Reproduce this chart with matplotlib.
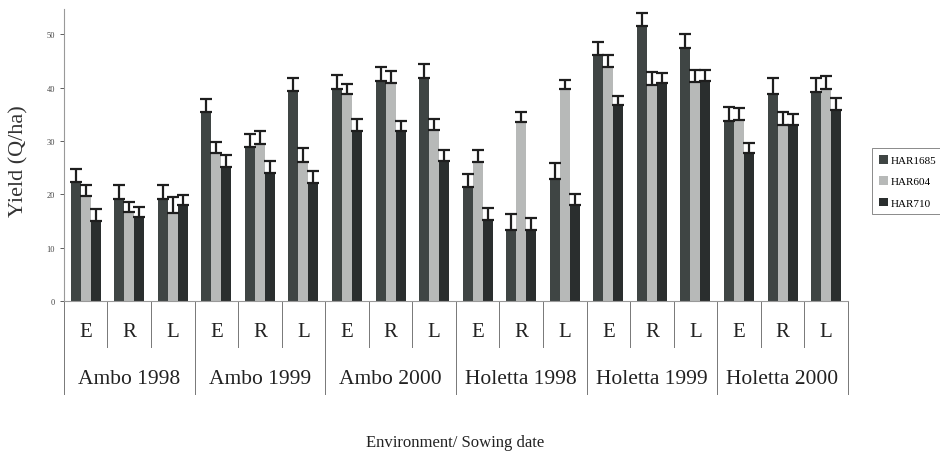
import numpy as np
import matplotlib
matplotlib.use("Agg")
import matplotlib.pyplot as plt

plt.rcParams['font.family'] = ['Liberation Serif', 'DejaVu Serif']

groups = ['Ambo 1998', 'Ambo 1999', 'Ambo 2000', 'Holetta 1998', 'Holetta 1999', 'Holetta 2000']
dates = ['E', 'R', 'L']
varieties = ['HAR1685', 'HAR604', 'HAR710']

# yield per environment/sowing date (18 values per variety)
har1685 = [22.3, 19.1, 19.1, 35.4, 28.9, 39.4, 39.8, 41.3, 41.9,
           21.3, 13.4, 22.8, 46.1, 51.6, 47.5, 33.8, 38.9, 39.2]
har604 = [19.6, 16.6, 16.5, 27.8, 29.5, 26.0, 38.8, 40.8, 32.0,
          26.0, 33.5, 39.7, 43.8, 40.5, 41.0, 34.0, 33.0, 39.8]
har710 = [15.0, 15.7, 18.0, 25.1, 24.0, 22.2, 31.9, 31.9, 26.2,
          15.2, 13.4, 18.0, 36.7, 40.8, 41.3, 27.7, 33.0, 35.8]

# upper error (standard error)
err1685 = [2.4, 2.7, 2.7, 2.4, 2.5, 2.5, 2.5, 2.5, 2.6,
           2.6, 2.9, 3.0, 2.5, 2.3, 2.5, 2.5, 3.0, 2.6]
err604 = [2.2, 1.9, 3.0, 2.0, 2.4, 2.7, 1.8, 2.3, 2.2,
          2.3, 2.0, 1.7, 2.4, 2.5, 2.3, 2.2, 2.5, 2.4]
err710 = [2.2, 1.9, 1.9, 2.3, 2.2, 2.2, 2.3, 1.9, 2.1,
          2.2, 2.1, 2.0, 1.7, 1.9, 2.0, 2.0, 2.0, 2.2]

series = [har1685, har604, har710]
errors = [err1685, err604, err710]
colors = ['#3f4544', '#b7b9b8', '#2a2e2e']

fig = plt.figure(figsize=(9.4, 4.64), dpi=100)
ax = fig.add_axes([0.068, 0.349, 0.834, 0.629])

n = len(groups) * len(dates)
x = np.arange(n)
w = 0.23
for i in range(3):
    ax.bar(x + (i - 1) * w, series[i], w, color=colors[i], label=varieties[i],
           yerr=[np.zeros(n), errors[i]], capsize=4.5,
           error_kw=dict(ecolor='#1e1e1e', elinewidth=1.6, capthick=1.6))

ax.set_xlim(-0.5, n - 0.5)
ax.set_ylim(0, 54.7)
ax.set_yticks([0, 10, 20, 30, 40, 50])
ax.tick_params(axis='y', labelsize=6, length=3, width=0.6, colors='#444444')
ax.set_xticks([])
for s in ['top', 'right']:
    ax.spines[s].set_visible(False)
ax.spines['left'].set_color('#999999')
ax.spines['left'].set_linewidth(0.8)
ax.spines['bottom'].set_color('#999999')
ax.spines['bottom'].set_linewidth(0.8)

fig.text(0.020, 0.653, 'Yield (Q/ha)', rotation=90, ha='center', va='center',
         fontsize=16, color='#333333')

# category table under the axis
tr = ax.get_xaxis_transform()
for k in range(n + 1):
    xb = k - 0.5
    depth = -0.32 if k % 3 == 0 else -0.158
    ax.plot([xb, xb], [0, depth], transform=tr, color='#777777', lw=0.7, clip_on=False)
for k in range(n):
    ax.text(x[k], -0.105, dates[k % 3], transform=tr, ha='center', va='center',
            fontsize=15, color='#222222')
for g, name in enumerate(groups):
    ax.text(g * 3 + 1, -0.265, name, transform=tr, ha='center', va='center',
            fontsize=15.5, color='#222222')

fig.text(0.484, 0.045, 'Environment/ Sowing date', ha='center', va='center',
         fontsize=12, color='#222222')

leg = ax.legend(loc='upper left', bbox_to_anchor=(0.922, 0.69),
                bbox_transform=fig.transFigure, fontsize=8, frameon=True,
                fancybox=False, edgecolor='#555555', handlelength=0.8,
                handleheight=0.8, handletextpad=0.3, borderpad=0.6,
                labelspacing=1.0)
leg.get_frame().set_linewidth(0.6)

fig.savefig('out.png', dpi=100)
